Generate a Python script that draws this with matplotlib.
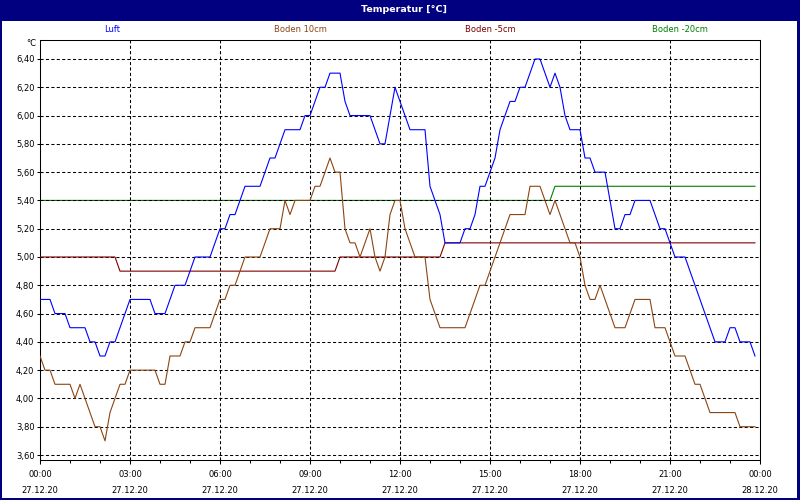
import numpy as np
import pandas as pd
import matplotlib
matplotlib.use('Agg')
import matplotlib.pyplot as plt
import matplotlib.dates as mdates
from matplotlib.patches import Rectangle

# 10-minute readings on 27.12.2020
times = pd.date_range('2020-12-27 00:00', periods=144, freq='10min')

luft = [
    4.7, 4.7, 4.7, 4.6, 4.6, 4.6, 4.5, 4.5, 4.5, 4.5, 4.4, 4.4,
    4.3, 4.3, 4.4, 4.4, 4.5, 4.6, 4.7, 4.7, 4.7, 4.7, 4.7, 4.6,
    4.6, 4.6, 4.7, 4.8, 4.8, 4.8, 4.9, 5.0, 5.0, 5.0, 5.0, 5.1,
    5.2, 5.2, 5.3, 5.3, 5.4, 5.5, 5.5, 5.5, 5.5, 5.6, 5.7, 5.7,
    5.8, 5.9, 5.9, 5.9, 5.9, 6.0, 6.0, 6.1, 6.2, 6.2, 6.3, 6.3,
    6.3, 6.1, 6.0, 6.0, 6.0, 6.0, 6.0, 5.9, 5.8, 5.8, 6.0, 6.2,
    6.1, 6.0, 5.9, 5.9, 5.9, 5.9, 5.5, 5.4, 5.3, 5.1, 5.1, 5.1,
    5.1, 5.2, 5.2, 5.3, 5.5, 5.5, 5.6, 5.7, 5.9, 6.0, 6.1, 6.1,
    6.2, 6.2, 6.3, 6.4, 6.4, 6.3, 6.2, 6.3, 6.2, 6.0, 5.9, 5.9,
    5.9, 5.7, 5.7, 5.6, 5.6, 5.6, 5.4, 5.2, 5.2, 5.3, 5.3, 5.4,
    5.4, 5.4, 5.4, 5.3, 5.2, 5.2, 5.1, 5.0, 5.0, 5.0, 4.9, 4.8,
    4.7, 4.6, 4.5, 4.4, 4.4, 4.4, 4.5, 4.5, 4.4, 4.4, 4.4, 4.3,
]

boden_10 = [
    4.3, 4.2, 4.2, 4.1, 4.1, 4.1, 4.1, 4.0, 4.1, 4.0, 3.9, 3.8,
    3.8, 3.7, 3.9, 4.0, 4.1, 4.1, 4.2, 4.2, 4.2, 4.2, 4.2, 4.2,
    4.1, 4.1, 4.3, 4.3, 4.3, 4.4, 4.4, 4.5, 4.5, 4.5, 4.5, 4.6,
    4.7, 4.7, 4.8, 4.8, 4.9, 5.0, 5.0, 5.0, 5.0, 5.1, 5.2, 5.2,
    5.2, 5.4, 5.3, 5.4, 5.4, 5.4, 5.4, 5.5, 5.5, 5.6, 5.7, 5.6,
    5.6, 5.2, 5.1, 5.1, 5.0, 5.1, 5.2, 5.0, 4.9, 5.0, 5.3, 5.4,
    5.4, 5.2, 5.1, 5.0, 5.0, 5.0, 4.7, 4.6, 4.5, 4.5, 4.5, 4.5,
    4.5, 4.5, 4.6, 4.7, 4.8, 4.8, 4.9, 5.0, 5.1, 5.2, 5.3, 5.3,
    5.3, 5.3, 5.5, 5.5, 5.5, 5.4, 5.3, 5.4, 5.3, 5.2, 5.1, 5.1,
    5.0, 4.8, 4.7, 4.7, 4.8, 4.7, 4.6, 4.5, 4.5, 4.5, 4.6, 4.7,
    4.7, 4.7, 4.7, 4.5, 4.5, 4.5, 4.4, 4.3, 4.3, 4.3, 4.2, 4.1,
    4.1, 4.0, 3.9, 3.9, 3.9, 3.9, 3.9, 3.9, 3.8, 3.8, 3.8, 3.8,
]

boden_m5 = [
    5.0, 5.0, 5.0, 5.0, 5.0, 5.0, 5.0, 5.0, 5.0, 5.0, 5.0, 5.0,
    5.0, 5.0, 5.0, 5.0, 4.9, 4.9, 4.9, 4.9, 4.9, 4.9, 4.9, 4.9,
    4.9, 4.9, 4.9, 4.9, 4.9, 4.9, 4.9, 4.9, 4.9, 4.9, 4.9, 4.9,
    4.9, 4.9, 4.9, 4.9, 4.9, 4.9, 4.9, 4.9, 4.9, 4.9, 4.9, 4.9,
    4.9, 4.9, 4.9, 4.9, 4.9, 4.9, 4.9, 4.9, 4.9, 4.9, 4.9, 4.9,
    5.0, 5.0, 5.0, 5.0, 5.0, 5.0, 5.0, 5.0, 5.0, 5.0, 5.0, 5.0,
    5.0, 5.0, 5.0, 5.0, 5.0, 5.0, 5.0, 5.0, 5.0, 5.1, 5.1, 5.1,
    5.1, 5.1, 5.1, 5.1, 5.1, 5.1, 5.1, 5.1, 5.1, 5.1, 5.1, 5.1,
    5.1, 5.1, 5.1, 5.1, 5.1, 5.1, 5.1, 5.1, 5.1, 5.1, 5.1, 5.1,
    5.1, 5.1, 5.1, 5.1, 5.1, 5.1, 5.1, 5.1, 5.1, 5.1, 5.1, 5.1,
    5.1, 5.1, 5.1, 5.1, 5.1, 5.1, 5.1, 5.1, 5.1, 5.1, 5.1, 5.1,
    5.1, 5.1, 5.1, 5.1, 5.1, 5.1, 5.1, 5.1, 5.1, 5.1, 5.1, 5.1,
]

boden_m20 = [
    5.4, 5.4, 5.4, 5.4, 5.4, 5.4, 5.4, 5.4, 5.4, 5.4, 5.4, 5.4,
    5.4, 5.4, 5.4, 5.4, 5.4, 5.4, 5.4, 5.4, 5.4, 5.4, 5.4, 5.4,
    5.4, 5.4, 5.4, 5.4, 5.4, 5.4, 5.4, 5.4, 5.4, 5.4, 5.4, 5.4,
    5.4, 5.4, 5.4, 5.4, 5.4, 5.4, 5.4, 5.4, 5.4, 5.4, 5.4, 5.4,
    5.4, 5.4, 5.4, 5.4, 5.4, 5.4, 5.4, 5.4, 5.4, 5.4, 5.4, 5.4,
    5.4, 5.4, 5.4, 5.4, 5.4, 5.4, 5.4, 5.4, 5.4, 5.4, 5.4, 5.4,
    5.4, 5.4, 5.4, 5.4, 5.4, 5.4, 5.4, 5.4, 5.4, 5.4, 5.4, 5.4,
    5.4, 5.4, 5.4, 5.4, 5.4, 5.4, 5.4, 5.4, 5.4, 5.4, 5.4, 5.4,
    5.4, 5.4, 5.4, 5.4, 5.4, 5.4, 5.4, 5.5, 5.5, 5.5, 5.5, 5.5,
    5.5, 5.5, 5.5, 5.5, 5.5, 5.5, 5.5, 5.5, 5.5, 5.5, 5.5, 5.5,
    5.5, 5.5, 5.5, 5.5, 5.5, 5.5, 5.5, 5.5, 5.5, 5.5, 5.5, 5.5,
    5.5, 5.5, 5.5, 5.5, 5.5, 5.5, 5.5, 5.5, 5.5, 5.5, 5.5, 5.5,
]

series_names = ['Luft', 'Boden 10cm', 'Boden -5cm', 'Boden -20cm']
series_colors = ['#0000ff', '#8b4513', '#800000', '#008000']

y_ticks = [3.6, 3.8, 4.0, 4.2, 4.4, 4.6, 4.8, 5.0, 5.2, 5.4, 5.6, 5.8, 6.0, 6.2, 6.4]
x_ticks = pd.date_range('2020-12-27 00:00', '2020-12-28 00:00', freq='3h')
x_labels = [t.strftime('%H:%M') + '\n' + t.strftime('%d.%m.%y') for t in x_ticks]

navy = '#000080'
plt.rcParams['font.family'] = ['DejaVu Sans']
plt.rcParams['font.size'] = 6

fig = plt.figure(figsize=(8, 5), dpi=100, facecolor='white')
ax = fig.add_axes([40 / 800, 40 / 500, 720 / 800, 420 / 500])
ax.set_facecolor('white')
ax.set_axisbelow(False)

ax.plot(times, boden_m20, color=series_colors[3], lw=0.8, zorder=2)
ax.plot(times, boden_m5, color=series_colors[2], lw=0.8, zorder=3)
ax.plot(times, boden_10, color=series_colors[1], lw=0.8, zorder=3)
ax.plot(times, luft, color=series_colors[0], lw=0.8, zorder=3)

ax.set_xlim(x_ticks[0], x_ticks[-1])
ax.set_ylim(3.6 - 5 / 141.43, 6.4 + 19 / 141.43)

ax.set_yticks(y_ticks, [f'{v:.2f}'.replace('.', ',') for v in y_ticks])
ax.set_xticks(x_ticks, x_labels)
ax.xaxis.set_minor_locator(mdates.HourLocator())
for lbl in ax.get_xticklabels():
    lbl.set_linespacing(2.0)

ax.grid(True, which='major', color='black', linestyle=(0, (3, 2.2)), linewidth=0.75)
ax.tick_params(axis='y', which='major', length=2, width=0.75, pad=2, colors='black')
ax.tick_params(axis='x', which='major', length=3, width=0.75, pad=4, colors='black')
ax.tick_params(axis='x', which='minor', length=2, width=0.75)
for s in ax.spines.values():
    s.set_linewidth(0.75)
    s.set_color('black')

# title bar and window frame
fig.patches.append(Rectangle((0, 1 - 21 / 500), 1, 21 / 500, transform=fig.transFigure,
                             facecolor=navy, edgecolor='none', zorder=0))
fig.patches.append(Rectangle((0, 0), 2 / 800, 1, transform=fig.transFigure,
                             facecolor=navy, edgecolor='none'))
fig.patches.append(Rectangle((797 / 800, 0), 3 / 800, 1, transform=fig.transFigure,
                             facecolor=navy, edgecolor='none'))
fig.patches.append(Rectangle((0, 0), 1, 2 / 500, transform=fig.transFigure,
                             facecolor=navy, edgecolor='none'))
fig.text(404 / 800, 1 - 10 / 500, 'Temperatur [°C]', color='white', fontsize=6.8,
         fontweight='bold', ha='center', va='center')

# series labels across the top
label_x = [112, 300, 490, 680]
for name, col, x in zip(series_names, series_colors, label_x):
    fig.text(x / 800, 1 - 30 / 500, name, color=col, ha='center', va='center')

fig.text(36 / 800, 1 - 44 / 500, '°C', ha='right', va='center')

plt.savefig('out.png', dpi=100, facecolor='white')
